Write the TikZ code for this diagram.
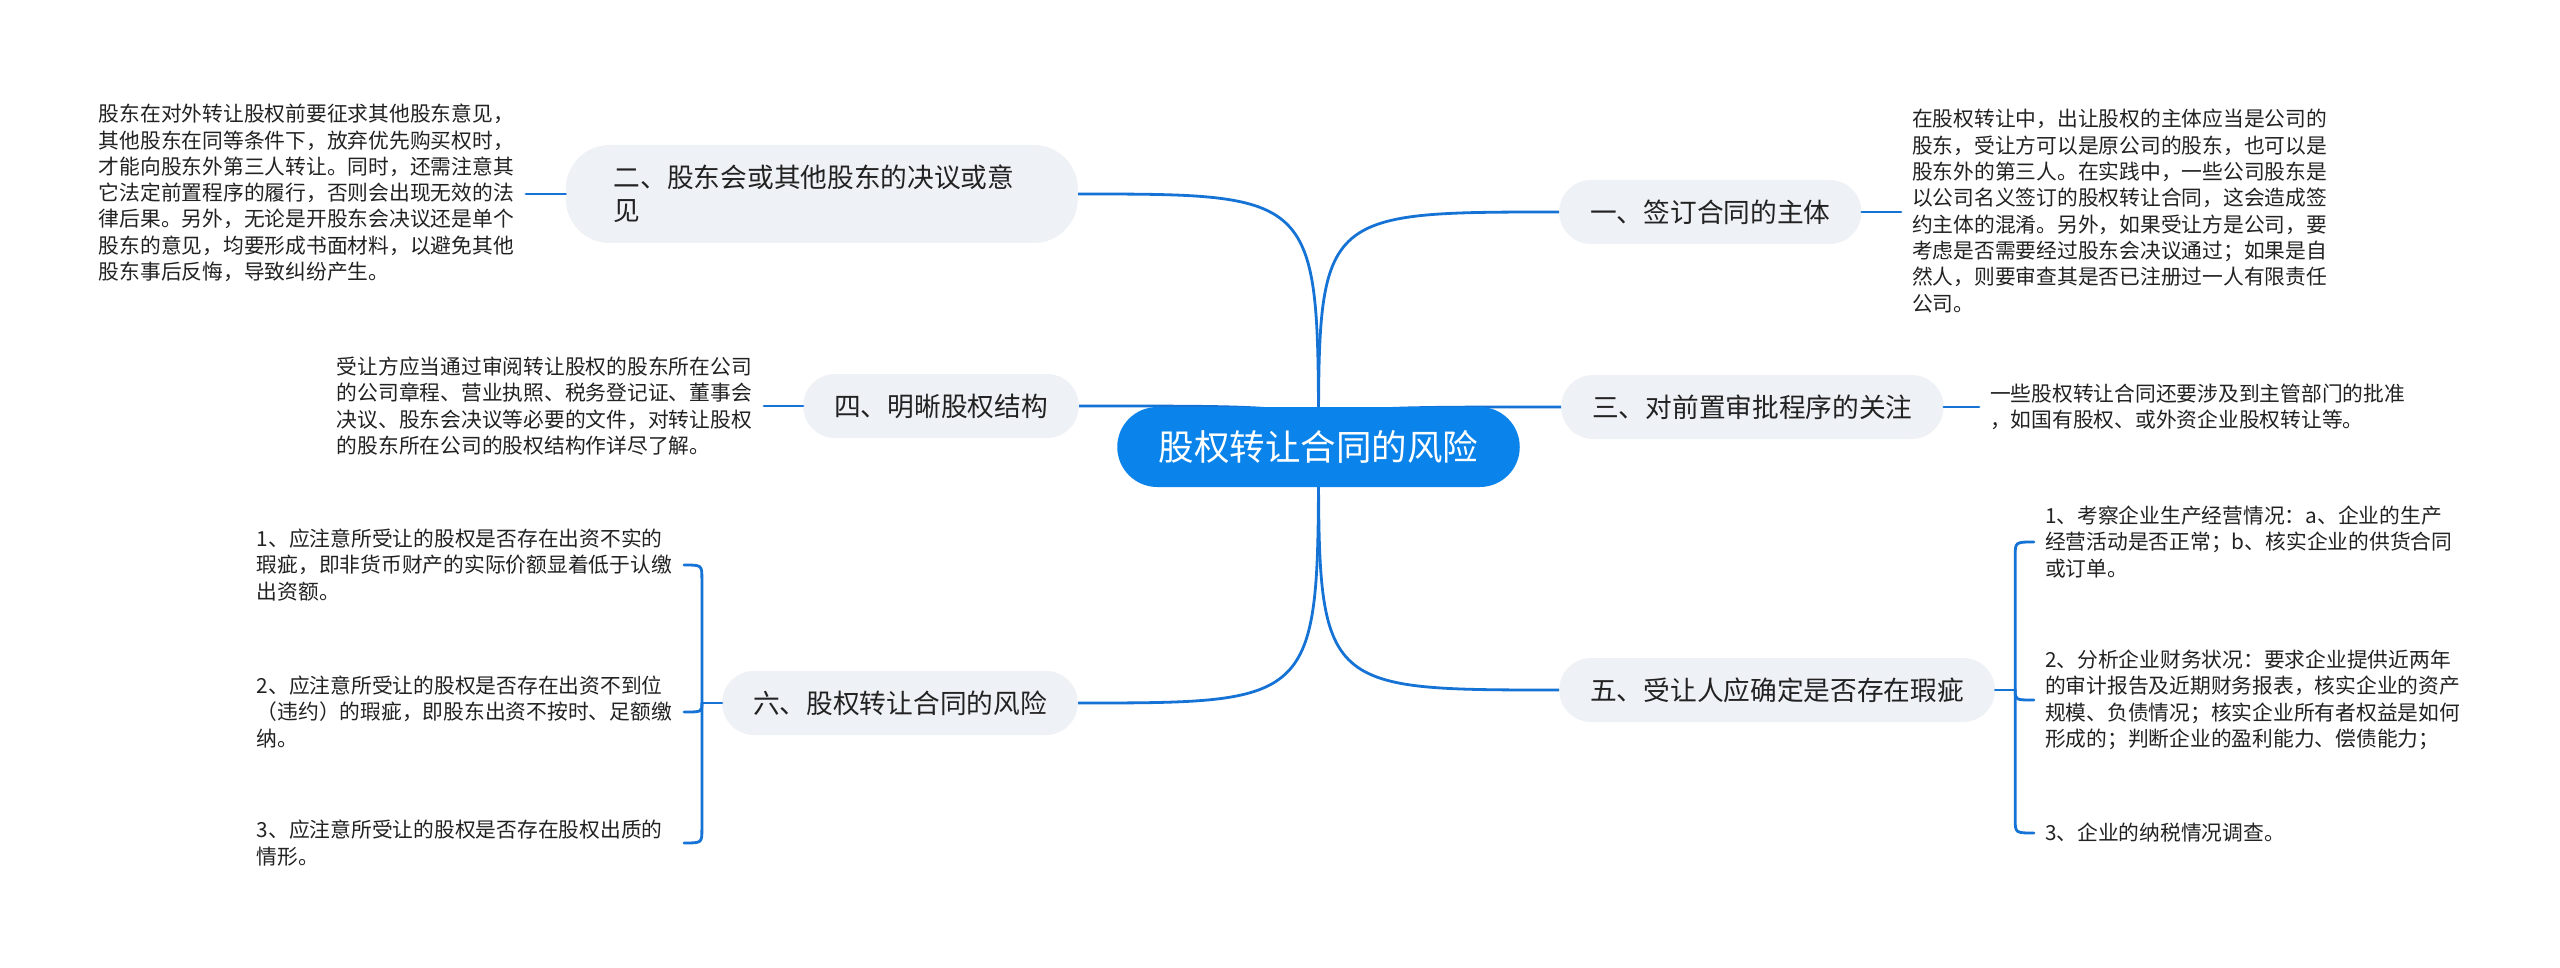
\documentclass[tikz,border=0pt]{standalone}
\usepackage{fontspec}
\setmainfont{Noto Sans CJK SC}
\usetikzlibrary{backgrounds,calc}
\definecolor{linec}{RGB}{22,115,214}
\definecolor{rootc}{RGB}{10,132,234}
\definecolor{mainc}{RGB}{238,241,245}
\definecolor{txtc}{RGB}{34,34,34}
\tikzset{
  rootnode/.style={fill=rootc, text=white, rounded corners=40pt, minimum height=80pt,
    inner xsep=41.5pt, inner ysep=0pt, font=\fontsize{35.5}{42}\selectfont},
  mainnode/.style={fill=mainc, text=txtc, rounded corners=32pt, minimum height=64pt,
    inner xsep=31pt, inner ysep=0pt, font=\fontsize{26.7}{33}\selectfont},
  leafnode/.style={text=txtc, inner xsep=11pt, inner ysep=0pt, align=left,
    font=\fontsize{20.75}{26.3}\selectfont},
  conn/.style={draw=linec, line width=2.8pt, line cap=round},
}
\begin{document}
\begin{tikzpicture}[x=1pt,y=-1pt]
\useasboundingbox (0,0) rectangle (2560,968);

% root
\node[rootnode] (root) at (1318.5,447) {股权转让合同的风险};

% main branches
\node[mainnode, anchor=west] (n1) at (1559,212) {一、签订合同的主体};
\node[mainnode, anchor=east, align=left, text width=416pt, inner xsep=48pt,
      minimum height=98pt, rounded corners=44pt, font=\fontsize{26.7}{33}\selectfont] (n2) at (1078,194)
      {二、股东会或其他股东的决议或意\\见};
\node[mainnode, anchor=west] (n3) at (1561,407) {三、对前置审批程序的关注};
\node[mainnode, anchor=east] (n4) at (1079,406) {四、明晰股权结构};
\node[mainnode, anchor=west] (n5) at (1559,690) {五、受让人应确定是否存在瑕疵};
\node[mainnode, anchor=east] (n6) at (1078,703) {六、股权转让合同的风险};

% leaves
\node[leafnode, anchor=west] (l1) at (1901,211) {在股权转让中，出让股权的主体应当是公司的\\股东，受让方可以是原公司的股东，也可以是\\股东外的第三人。在实践中，一些公司股东是\\以公司名义签订的股权转让合同，这会造成签\\约主体的混淆。另外，如果受让方是公司，要\\考虑是否需要经过股东会决议通过；如果是自\\然人，则要审查其是否已注册过一人有限责任\\公司。};
\node[leafnode, anchor=east, text width=416pt] (l2) at (526,193) {股东在对外转让股权前要征求其他股东意见，\\其他股东在同等条件下，放弃优先购买权时，\\才能向股东外第三人转让。同时，还需注意其\\它法定前置程序的履行，否则会出现无效的法\\律后果。另外，无论是开股东会决议还是单个\\股东的意见，均要形成书面材料，以避免其他\\股东事后反悔，导致纠纷产生。};
\node[leafnode, anchor=west] (l3) at (1979,407) {一些股权转让合同还要涉及到主管部门的批准\\，如国有股权、或外资企业股权转让等。};
\node[leafnode, anchor=east, text width=416pt] (l4) at (764,406) {受让方应当通过审阅转让股权的股东所在公司\\的公司章程、营业执照、税务登记证、董事会\\决议、股东会决议等必要的文件，对转让股权\\的股东所在公司的股权结构作详尽了解。};
\node[leafnode, anchor=west] (l5a) at (2034,542) {1、考察企业生产经营情况：a、企业的生产\\经营活动是否正常；b、核实企业的供货合同\\或订单。};
\node[leafnode, anchor=west] (l5b) at (2034,700) {2、分析企业财务状况：要求企业提供近两年\\的审计报告及近期财务报表，核实企业的资产\\规模、负债情况；核实企业所有者权益是如何\\形成的；判断企业的盈利能力、偿债能力；};
\node[leafnode, anchor=west] (l5c) at (2034,833) {3、企业的纳税情况调查。};
\node[leafnode, anchor=east, text width=416pt] (l6a) at (684,565) {1、应注意所受让的股权是否存在出资不实的\\瑕疵，即非货币财产的实际价额显着低于认缴\\出资额。};
\node[leafnode, anchor=east, text width=416pt] (l6b) at (684,712) {2、应注意所受让的股权是否存在出资不到位\\（违约）的瑕疵，即股东出资不按时、足额缴\\纳。};
\node[leafnode, anchor=east, text width=416pt] (l6c) at (684,843) {3、应注意所受让的股权是否存在股权出质的\\情形。};

\coordinate (s5) at ($(n5.east)+(20,0)$);
\coordinate (s6) at ($(n6.west)+(-20,0)$);

\begin{scope}[on background layer]
  \fill[white] (0,0) rectangle (2560,968);
  % root to main branches
  \draw[conn] (root.center) .. controls (root.center |- n1.west) .. (n1.west);
  \draw[conn] (root.center) .. controls (root.center |- n2.east) .. (n2.east);
  \draw[conn] (root.center) .. controls (root.center |- n3.west) .. (n3.west);
  \draw[conn] (root.center) .. controls (root.center |- n4.east) .. (n4.east);
  \draw[conn] (root.center) .. controls (root.center |- n5.west) .. (n5.west);
  \draw[conn] (root.center) .. controls (root.center |- n6.east) .. (n6.east);
\end{scope}

% main to leaves
\draw[conn] (n1.east) -- (n1.east -| l1.west);
\draw[conn] (n2.west) -- (n2.west -| l2.east);
\draw[conn] (n3.east) -- (n3.east -| l3.west);
\draw[conn] (n4.west) -- (n4.west -| l4.east);

% bracket for 5
\draw[conn] (n5.east) -- (s5);
\draw[conn] (s5) -- ($(s5 |- l5a.west)+(0,14)$) .. controls (s5 |- l5a.west) .. (l5a.west);
\draw[conn] (s5) .. controls (s5 |- l5b.west) .. (l5b.west);
\draw[conn] (s5) -- ($(s5 |- l5c.west)+(0,-14)$) .. controls (s5 |- l5c.west) .. (l5c.west);

% bracket for 6
\draw[conn] (n6.west) -- (s6);
\draw[conn] (s6) -- ($(s6 |- l6a.east)+(0,14)$) .. controls (s6 |- l6a.east) .. (l6a.east);
\draw[conn] (s6) .. controls (s6 |- l6b.east) .. (l6b.east);
\draw[conn] (s6) -- ($(s6 |- l6c.east)+(0,-14)$) .. controls (s6 |- l6c.east) .. (l6c.east);
\end{tikzpicture}
\end{document}
